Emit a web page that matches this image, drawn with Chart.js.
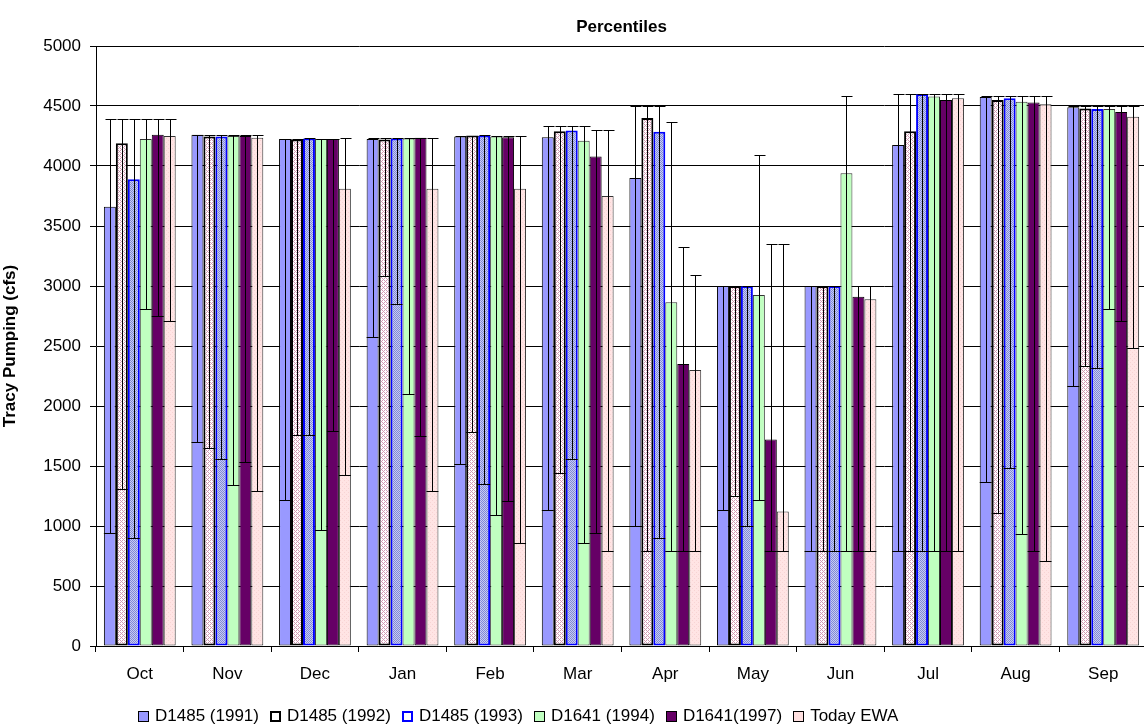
<!DOCTYPE html>
<html>
<head>
<meta charset="utf-8">
<script src="https://cdn.jsdelivr.net/npm/chart.js@4"></script>
<style>
  html, body { margin: 0; padding: 0; background: #fff; overflow: hidden; }
  #wrap { position: relative; width: 1150px; height: 725px; }
  #legend { position: absolute; top: 706px; left: 138px; font: 17px "Liberation Sans", Arial, sans-serif; color: #000; white-space: nowrap; line-height: 20px; }
  #legend span.item { display: inline-block; margin-right: 11px; }
  #legend i { display: inline-block; width: 9px; height: 9px; border: 1px solid #000; margin-right: 6px; vertical-align: -1px; }
</style>
</head>
<body>
<div id="wrap">
  <canvas id="chart" width="1150" height="725"></canvas>
  <div id="legend"></div>
</div>
<script>
// Months on the x axis
const months = ['Oct', 'Nov', 'Dec', 'Jan', 'Feb', 'Mar', 'Apr', 'May', 'Jun', 'Jul', 'Aug', 'Sep'];
const seriesNames = ['D1485 (1991)', 'D1485 (1992)', 'D1485 (1993)', 'D1641 (1994)', 'D1641(1997)', 'Today EWA'];
const yTicks = [0, 500, 1000, 1500, 2000, 2500, 3000, 3500, 4000, 4500, 5000];

// bar top (median), inner line (low percentile), whisker cap (high percentile)
const top1991  = [3660, 4260, 4225, 4225, 4245, 4240, 3900, 3000, 3000, 4175, 4575, 4490];
const low1991  = [940, 1700, 1220, 2575, 1520, 1135, 1000, 1135, 790, 790, 1370, 2170];
const high1991 = [4390, 4260, 4225, 4230, 4250, 4330, 4500, 3000, 3000, 4600, 4580, 4500];

const top1992  = [4190, 4245, 4220, 4220, 4255, 4290, 4400, 3000, 3000, 4290, 4550, 4480];
const low1992  = [1310, 1650, 1760, 3085, 1785, 1445, 790, 1250, 790, 790, 1105, 2330];
const high1992 = [4390, 4260, 4225, 4230, 4250, 4330, 4500, 3000, 3000, 4600, 4580, 4500];

const top1993  = [3890, 4245, 4230, 4230, 4255, 4295, 4285, 3000, 3000, 4600, 4565, 4475];
const low1993  = [900, 1560, 1760, 2850, 1350, 1560, 900, 1000, 790, 790, 1485, 2320];
const high1993 = [4390, 4260, 4230, 4230, 4255, 4330, 4500, 3000, 3000, 4600, 4580, 4500];

const top1994  = [4225, 4250, 4225, 4230, 4245, 4210, 2865, 2925, 3940, 4580, 4535, 4475];
const low1994  = [2810, 1345, 970, 2100, 1095, 855, 790, 1215, 790, 790, 930, 2810];
const high1994 = [4390, 4260, 4225, 4230, 4250, 4330, 4365, 4090, 4580, 4600, 4580, 4500];

const top1997  = [4260, 4250, 4225, 4235, 4240, 4080, 2350, 1720, 2910, 4550, 4530, 4450];
const low1997  = [2750, 1535, 1795, 1750, 1210, 945, 790, 790, 790, 790, 790, 2710];
const high1997 = [4390, 4260, 4225, 4235, 4250, 4300, 3325, 3350, 3000, 4600, 4580, 4500];

const topEwa   = [4250, 4235, 3810, 3810, 3810, 3750, 2300, 1120, 2890, 4565, 4515, 4410];
const lowEwa   = [2710, 1295, 1425, 1295, 855, 795, 790, 790, 790, 790, 705, 2485];
const highEwa  = [4390, 4260, 4230, 4230, 4250, 4300, 3090, 3350, 3000, 4600, 4580, 4500];

const lows = [low1991, low1992, low1993, low1994, low1997, lowEwa];
const highs = [high1991, high1992, high1993, high1994, high1997, highEwa];

// small fill patterns like the excel ones
function makePattern(bg, fg, cells) {
    const c = document.createElement('canvas');
    c.width = 4; c.height = 4;
    const p = c.getContext('2d');
    p.fillStyle = bg;
    p.fillRect(0, 0, 4, 4);
    p.fillStyle = fg;
    cells.forEach(([x, y]) => p.fillRect(x, y, 1, 1));
    return p.createPattern(c, 'repeat');
}
const ctx = document.getElementById('chart').getContext('2d');
const pinkGrid = makePattern('#ffffff', '#d49ab4', [[0, 0], [2, 0], [0, 2], [2, 2], [1, 1], [3, 3]]);
const blueDots = makePattern('#c8ccf0', '#8088d8', [[0, 0], [2, 0], [1, 1], [3, 1], [0, 2], [2, 2], [1, 3], [3, 3]]);
const pinkLight = makePattern('#ffe4e4', '#f8d4d4', [[0, 0], [2, 2]]);

const fills = ['#9999ff', pinkGrid, blueDots, '#c0ffc0', '#660066', pinkLight];
const borders = ['#000000', '#000000', '#0000ff', '#333333', '#000000', '#333333'];
const borderWidths = [1, 2, 2, 1, 1, 1];
const tops = [top1991, top1992, top1993, top1994, top1997, topEwa];

const datasets = seriesNames.map((name, i) => ({
    label: name,
    data: tops[i],
    backgroundColor: fills[i],
    borderColor: borders[i],
    borderWidth: borderWidths[i],
    borderSkipped: false
}));

// inner line at the low percentile + whisker up to the high percentile
const whiskers = {
    id: 'whiskers',
    afterDatasetsDraw(chart) {
        const c = chart.ctx;
        const y = chart.scales.y;
        c.save();
        c.strokeStyle = '#000';
        c.lineWidth = 1;
        chart.data.datasets.forEach((ds, i) => {
            const meta = chart.getDatasetMeta(i);
            meta.data.forEach((bar, j) => {
                const lo = Math.round(y.getPixelForValue(lows[i][j])) + 0.5;
                const hi = Math.round(y.getPixelForValue(highs[i][j])) + 0.5;
                const x = Math.round(bar.x) + 0.5;
                const half = bar.width / 2;
                c.beginPath();
                c.moveTo(bar.x - half, lo);
                c.lineTo(bar.x + half, lo);
                c.moveTo(x, lo);
                c.lineTo(x, hi);
                c.moveTo(x - 5, hi);
                c.lineTo(x + 6, hi);
                c.stroke();
            });
        });
        c.restore();
    }
};

// title centered over the plot area
const plotTitle = {
    id: 'plotTitle',
    afterDraw(chart) {
        const c = chart.ctx;
        const a = chart.chartArea;
        c.save();
        c.font = 'bold 17px "Liberation Sans", Arial, sans-serif';
        c.fillStyle = '#000';
        c.textAlign = 'center';
        c.textBaseline = 'middle';
        c.fillText('Percentiles', (a.left + a.right) / 2, 27);
        c.restore();
    }
};

Chart.defaults.font.family = '"Liberation Sans", Arial, sans-serif';
Chart.defaults.font.size = 17;
Chart.defaults.color = '#000';

new Chart(ctx, {
    type: 'bar',
    data: {
        labels: months,
        datasets: datasets
    },
    options: {
        responsive: false,
        animation: false,
        layout: { padding: { top: 46, right: 3, left: 0, bottom: 0 } },
        datasets: {
            bar: { categoryPercentage: 0.82, barPercentage: 1.0 }
        },
        plugins: {
            legend: { display: false },
            tooltip: { enabled: false }
        },
        scales: {
            x: {
                afterFit(scale) { scale.height = 79; },
                grid: { offset: true, drawOnChartArea: false, color: '#000', tickLength: 6 },
                border: { color: '#000' },
                ticks: { padding: 12 }
            },
            y: {
                min: 0,
                max: 5000,
                afterFit(scale) { scale.width = 96; },
                afterBuildTicks(scale) { scale.ticks = yTicks.map(v => ({ value: v })); },
                grid: { color: '#000', tickLength: 6 },
                border: { color: '#000' },
                ticks: { padding: 9, callback: v => String(v) },
                title: {
                    display: true,
                    text: 'Tracy Pumping (cfs)',
                    font: { size: 17, weight: 'bold' },
                    padding: { top: 0, bottom: 4 }
                }
            }
        }
    },
    plugins: [whiskers, plotTitle]
});

// legend as html under the chart
const legendSwatches = [
    'background:#9999ff;',
    'background:#fff;border:2px solid #000;width:7px;height:7px;',
    'background:#fff;border:2px solid #0000ff;width:7px;height:7px;',
    'background:#c0ffc0;',
    'background:#660066;',
    'background:#ffe0e0;'
];
document.getElementById('legend').innerHTML = seriesNames.map((name, i) =>
    `<span class="item"><i style="${legendSwatches[i]}"></i>${name}</span>`
).join('');
</script>
</body>
</html>
